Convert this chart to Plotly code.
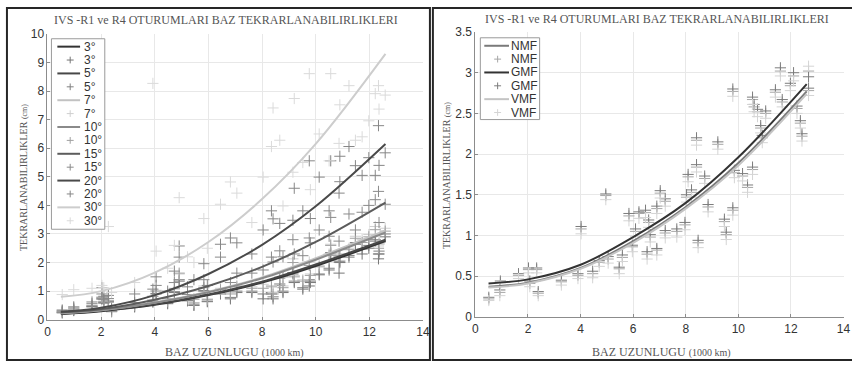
import plotly.graph_objects as go

# ---------------- LEFT PANEL DATA (elevation cut-off angles) ----------------
elev_labels = ["3°", "5°", "7°", "10°", "15°", "20°", "30°"]

fit_x = [0.5, 2, 4, 6, 8, 10, 12.6]
fit_3 = [0.20, 0.30, 0.52, 0.86, 1.30, 1.88, 2.75]
fit_5 = [0.21, 0.31, 0.54, 0.88, 1.33, 1.93, 2.80]
fit_7 = [0.23, 0.33, 0.60, 0.98, 1.48, 2.15, 3.12]
fit_10 = [0.24, 0.34, 0.59, 0.96, 1.45, 2.10, 3.05]
fit_15 = [0.26, 0.37, 0.70, 1.18, 1.85, 2.72, 4.10]
fit_20 = [0.28, 0.42, 0.86, 1.60, 2.62, 3.97, 6.15]
fit_30 = [0.80, 1.00, 1.65, 2.72, 4.22, 6.15, 9.30]

base_x = [0.55, 0.98, 1.66, 2.03, 2.10, 2.27, 2.39, 3.25, 3.93, 4.05, 4.48, 4.73, 4.91, 5.22, 5.46,
          5.83, 5.96, 6.45, 6.82, 7.06, 7.62, 8.04, 8.35, 8.41, 8.66, 8.78, 9.15, 9.20, 9.52, 9.76,
          9.80, 10.13, 10.50, 10.56, 10.87, 10.90, 11.24, 11.48, 11.73, 11.98, 12.22, 12.34, 12.36, 12.59]
pts_3 = [0.24, 0.32, 0.45, 0.72, 0.58, 0.62, 0.28, 0.45, 0.62, 0.90, 0.56, 0.95, 1.35, 0.66, 0.50,
         1.00, 0.63, 0.90, 0.73, 0.95, 0.95, 0.73, 0.90, 0.73, 1.20, 0.95, 1.60, 1.30, 1.07, 1.18,
         1.30, 1.57, 1.74, 2.30, 1.63, 2.00, 2.19, 2.64, 2.30, 2.50, 2.75, 2.13, 2.30, 2.90]
pts_5 = [0.25, 0.33, 0.46, 0.75, 0.60, 0.63, 0.29, 0.46, 0.63, 0.92, 0.58, 0.98, 1.40, 0.68, 0.52,
         1.02, 0.65, 0.95, 0.78, 1.00, 1.00, 0.90, 0.95, 0.80, 1.25, 1.00, 1.65, 1.35, 1.12, 1.40,
         1.35, 1.60, 1.80, 2.35, 2.02, 2.05, 2.25, 2.70, 2.47, 2.60, 2.80, 2.30, 2.40, 3.00]
pts_7 = [0.28, 0.36, 0.50, 0.80, 0.64, 0.68, 0.31, 0.52, 0.70, 1.03, 0.66, 1.10, 1.60, 0.75, 0.60,
         1.18, 0.73, 1.10, 0.95, 1.20, 1.15, 1.24, 1.20, 0.95, 1.50, 1.18, 2.13, 1.55, 1.40, 2.02,
         1.60, 1.90, 2.30, 2.64, 2.30, 2.30, 2.50, 2.92, 2.80, 2.98, 3.26, 2.58, 2.70, 3.20]
pts_10 = [0.29, 0.37, 0.50, 0.78, 0.63, 0.66, 0.31, 0.51, 0.68, 1.00, 0.64, 1.08, 1.63, 0.73, 0.58,
          1.12, 0.70, 1.05, 0.90, 1.15, 1.10, 1.10, 1.15, 0.90, 1.45, 1.12, 2.00, 1.50, 1.35, 1.90,
          1.55, 1.85, 2.25, 2.60, 2.20, 2.25, 2.45, 2.85, 2.70, 2.90, 3.15, 2.50, 2.65, 3.10]
pts_15 = [0.31, 0.41, 0.56, 0.90, 0.70, 0.74, 0.35, 0.60, 0.82, 1.20, 0.73, 1.30, 2.19, 0.88, 0.72,
          1.40, 0.88, 2.19, 1.30, 1.63, 1.63, 1.74, 2.19, 2.02, 2.41, 1.50, 2.80, 2.30, 2.24, 2.86,
          2.69, 3.14, 2.92, 3.58, 2.75, 4.83, 3.70, 3.14, 3.76, 4.00, 4.20, 4.49, 3.40, 4.04]
pts_20 = [0.34, 0.45, 0.62, 1.12, 0.82, 0.85, 0.40, 0.90, 1.07, 1.50, 1.00, 1.70, 2.58, 1.15, 1.40,
          1.96, 1.20, 2.64, 2.86, 2.69, 2.30, 3.14, 3.81, 3.53, 3.37, 2.20, 3.48, 4.60, 3.81, 5.56,
          3.54, 4.99, 3.81, 5.56, 4.43, 5.72, 6.06, 5.39, 5.05, 5.67, 5.05, 6.79, 5.40, 5.84]
pts_30 = [0.88, 1.05, 1.10, 1.20, 1.12, 3.26, 0.95, 1.30, 8.27, 2.40, 1.80, 2.60, 4.27, 2.20, 2.00,
          3.54, 2.50, 4.04, 4.82, 4.43, 3.40, 4.99, 6.06, 7.41, 6.28, 3.98, 5.16, 7.74, 5.50, 8.61,
          4.55, 6.50, 5.56, 8.61, 6.17, 7.52, 8.19, 6.28, 6.40, 6.96, 7.91, 8.19, 7.37, 7.86]

# ---------------- RIGHT PANEL DATA (mapping functions) ----------------
mf_labels = ["NMF", "GMF", "VMF"]
mf_fit_x = [0.5, 2, 4, 6, 8, 10, 12.6]
fit_nmf = [0.37, 0.42, 0.60, 0.93, 1.35, 1.89, 2.77]
fit_gmf = [0.41, 0.46, 0.64, 0.98, 1.40, 1.96, 2.86]
fit_vmf = [0.36, 0.41, 0.59, 0.91, 1.33, 1.86, 2.74]

mf_x = [0.51, 0.93, 0.95, 1.64, 2.02, 2.07, 2.33, 2.39, 3.27, 3.90, 4.02, 4.46, 4.71, 4.96, 5.05,
        5.47, 5.59, 5.84, 5.97, 6.09, 6.22, 6.47, 6.53, 6.59, 6.65, 6.90, 6.90, 7.03, 7.22, 7.22,
        7.66, 7.97, 8.03, 8.09, 8.22, 8.41, 8.41, 8.47, 8.72, 8.85, 9.22, 9.47, 9.54, 9.79, 9.79,
        9.85, 10.16, 10.35, 10.54, 10.54, 10.60, 10.73, 10.85, 10.91, 11.04, 11.41, 11.60, 11.67, 11.98, 12.10,
        12.23, 12.36, 12.42, 12.67, 12.67]
pts_nmf = [0.22, 0.30, 0.42, 0.51, 0.58, 0.41, 0.58, 0.29, 0.43, 0.51, 1.08, 0.53, 0.67, 1.49, 0.71,
           0.59, 0.73, 1.24, 0.86, 1.05, 1.27, 1.28, 0.77, 1.16, 0.98, 1.33, 0.82, 1.52, 1.42, 1.03,
           1.05, 1.13, 1.47, 1.72, 1.53, 2.17, 1.84, 0.91, 1.70, 1.35, 2.12, 1.17, 1.01, 1.31, 2.77,
           1.77, 1.73, 1.59, 1.81, 2.67, 2.58, 2.52, 2.32, 2.20, 2.50, 2.76, 3.02, 2.64, 2.84, 2.96,
           2.56, 2.38, 2.22, 3.02, 2.78]
pts_gmf = [0.24, 0.33, 0.44, 0.53, 0.60, 0.44, 0.60, 0.31, 0.45, 0.53, 1.11, 0.56, 0.69, 1.51, 0.74,
           0.61, 0.76, 1.27, 0.88, 1.08, 1.29, 1.31, 0.80, 1.19, 1.01, 1.36, 0.84, 1.55, 1.45, 1.06,
           1.08, 1.16, 1.50, 1.75, 1.56, 2.20, 1.87, 0.94, 1.73, 1.38, 2.15, 1.20, 1.04, 1.34, 2.80,
           1.80, 1.76, 1.62, 1.84, 2.70, 2.61, 2.55, 2.35, 2.23, 2.53, 2.79, 3.06, 2.67, 2.87, 3.00,
           2.59, 2.41, 2.25, 2.95, 2.81]
pts_vmf = [0.20, 0.26, 0.38, 0.47, 0.54, 0.37, 0.54, 0.26, 0.39, 0.47, 1.02, 0.48, 0.62, 1.44, 0.66,
           0.53, 0.68, 1.18, 0.80, 0.99, 1.21, 1.22, 0.71, 1.10, 0.92, 1.27, 0.76, 1.46, 1.36, 0.97,
           0.98, 1.07, 1.41, 1.66, 1.47, 2.11, 1.78, 0.85, 1.64, 1.29, 2.06, 1.11, 0.95, 1.25, 2.71,
           1.71, 1.67, 1.53, 1.75, 2.61, 2.52, 2.46, 2.26, 2.14, 2.44, 2.70, 2.96, 2.58, 2.78, 2.90,
           2.50, 2.32, 2.16, 3.08, 2.72]

title_text = "IVS -R1 ve R4 OTURUMLARI BAZ TEKRARLANABILIRLIKLERI"
x_title = "BAZ UZUNLUGU <span style='font-size:10px'>(1000 km)</span>"
y_title = "TEKRARLANABILIRLIKLER <span style='font-size:8px'>(cm)</span>"

# ---------------- styles ----------------
elev_fits = [fit_3, fit_5, fit_7, fit_10, fit_15, fit_20, fit_30]
elev_pts = [pts_3, pts_5, pts_7, pts_10, pts_15, pts_20, pts_30]
elev_line_col = ["#333333", "#474747", "#c2c2c2", "#8a8a8a", "#5c5c5c", "#4a4a4a", "#cdcdcd"]
elev_mark_col = ["#767676", "#808080", "#cfcfcf", "#a0a0a0", "#8a8a8a", "#868686", "#dadada"]

mf_fits = [fit_nmf, fit_gmf, fit_vmf]
mf_pts = [pts_nmf, pts_gmf, pts_vmf]
mf_line_col = ["#7a7a7a", "#333333", "#c4c4c4"]
mf_mark_col = ["#a6a6a6", "#7c7c7c", "#d4d4d4"]

W, H = 852, 370
def px(x):
    return x / W
def py(y):
    return 1 - y / H

fig = go.Figure()

for lab, pts, col in zip(elev_labels, elev_pts, elev_mark_col):
    fig.add_trace(go.Scatter(x=base_x, y=pts, mode="markers", name=lab, xaxis="x", yaxis="y",
                             marker=dict(symbol="cross-thin", size=8, line=dict(width=1, color=col))))
for lab, fit, col in zip(elev_labels, elev_fits, elev_line_col):
    fig.add_trace(go.Scatter(x=fit_x, y=fit, mode="lines", name=lab, xaxis="x", yaxis="y",
                             line=dict(color=col, width=2, shape="spline")))

for lab, pts, col in zip(mf_labels, mf_pts, mf_mark_col):
    fig.add_trace(go.Scatter(x=mf_x, y=pts, mode="markers", name=lab, xaxis="x2", yaxis="y2",
                             marker=dict(symbol="cross-thin", size=8, line=dict(width=1, color=col))))
for lab, fit, col in zip(mf_labels, mf_fits, mf_line_col):
    fig.add_trace(go.Scatter(x=mf_fit_x, y=fit, mode="lines", name=lab, xaxis="x2", yaxis="y2",
                             line=dict(color=col, width=2, shape="spline")))

axis_common = dict(showgrid=True, gridcolor="#e8e8e8", gridwidth=1, zeroline=False,
                   showline=True, linecolor="#8c8c8c", linewidth=1,
                   ticks="inside", ticklen=3, tickcolor="#8c8c8c",
                   tickfont=dict(family="Liberation Sans", size=12, color="#333333"))

fig.update_layout(
    width=W, height=H, margin=dict(l=0, r=0, t=0, b=0),
    paper_bgcolor="white", plot_bgcolor="white", showlegend=False,
    xaxis=dict(domain=[px(45), px(425)], range=[0, 14], dtick=2, anchor="y",
               ticklabelstandoff=1, **axis_common),
    yaxis=dict(domain=[py(325), py(28)], range=[0, 10], dtick=1, anchor="x", **axis_common),
    xaxis2=dict(domain=[px(478), px(850.5)], range=[0, 14], dtick=2, anchor="y2",
                ticklabelstandoff=1, **axis_common),
    yaxis2=dict(domain=[py(322), py(26)], range=[0, 3.5], dtick=0.5, anchor="x2", **axis_common),
)

shapes = []
annotations = []
# frames around each panel
shapes.append(dict(type="rect", xref="paper", yref="paper", x0=px(4), x1=px(432), y0=py(367), y1=py(1),
                   line=dict(color="#262626", width=2), fillcolor="rgba(0,0,0,0)", layer="above"))
shapes.append(dict(type="rect", xref="paper", yref="paper", x0=px(435), x1=px(870), y0=py(367), y1=py(1),
                   line=dict(color="#262626", width=2), fillcolor="rgba(0,0,0,0)", layer="above"))

serif = "Liberation Serif"
def text(x, y, t, size=12, color="#555555", family=serif, angle=0, xanchor="center"):
    annotations.append(dict(x=px(x), y=py(y), xref="paper", yref="paper", text=t, showarrow=False,
                            xanchor=xanchor, yanchor="middle", textangle=angle,
                            font=dict(family=family, size=size, color=color)))

# titles
text(226, 13, title_text)
text(662, 12, title_text)
text(234, 359, x_title)
text(666, 359, x_title)
text(21, 177, y_title, size=10, angle=-90)
text(449, 175, y_title, size=10, angle=-90)

# custom compact legends
def legend(x0, x1, y0, y1, first_y, step, line_x0, line_x1, cross_x, text_x, labels, line_cols, mark_cols):
    shapes.append(dict(type="rect", xref="paper", yref="paper", x0=px(x0), x1=px(x1), y0=py(y1), y1=py(y0),
                       line=dict(color="#9a9a9a", width=1), fillcolor="white", layer="above"))
    i = 0
    for lab, lc, mc in zip(labels, line_cols, mark_cols):
        yl = first_y + step * i
        shapes.append(dict(type="line", xref="paper", yref="paper", x0=px(line_x0), x1=px(line_x1),
                           y0=py(yl), y1=py(yl), line=dict(color=lc, width=2), layer="above"))
        text(text_x, yl, lab, size=12, color="#333333", family="Liberation Sans", xanchor="left")
        ym = first_y + step * (i + 1)
        shapes.append(dict(type="line", xref="paper", yref="paper", x0=px(cross_x - 3.5), x1=px(cross_x + 3.5),
                           y0=py(ym), y1=py(ym), line=dict(color=mc, width=1), layer="above"))
        shapes.append(dict(type="line", xref="paper", yref="paper", x0=px(cross_x), x1=px(cross_x),
                           y0=py(ym - 3.5), y1=py(ym + 3.5), line=dict(color=mc, width=1), layer="above"))
        text(text_x, ym, lab, size=12, color="#333333", family="Liberation Sans", xanchor="left")
        i += 2

legend(49, 103, 33, 231, 41.2, 13.92, 55, 78, 68, 80, elev_labels, elev_line_col, elev_mark_col)
legend(483, 543, 32, 117, 40.3, 13.87, 487, 512, 500.5, 512, mf_labels, mf_line_col, mf_mark_col)

fig.update_layout(shapes=shapes, annotations=annotations)
fig.write_html("out.html")
